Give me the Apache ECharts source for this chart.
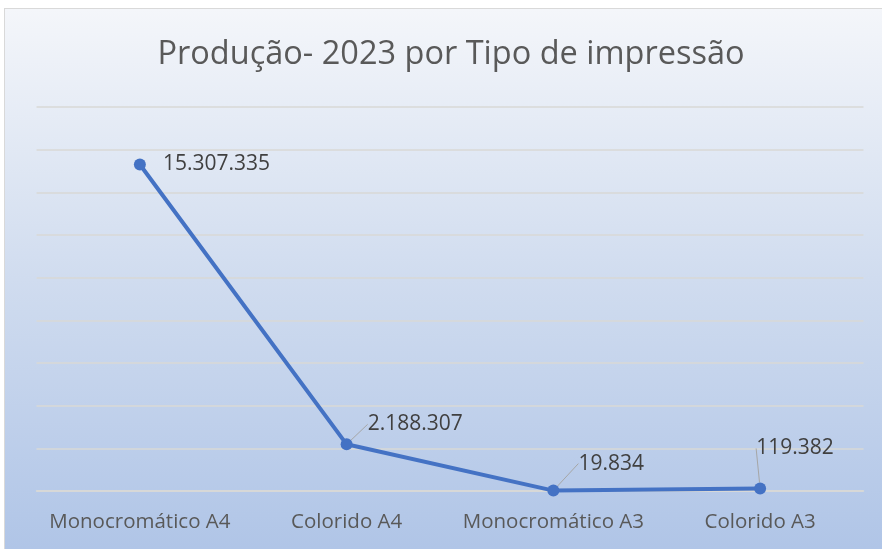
<!DOCTYPE html>
<html>
<head>
    <meta charset="utf-8">
    <title>Produção 2023</title>
    <script src="https://cdn.jsdelivr.net/npm/echarts@6/dist/echarts.min.js"></script>
    <style>
        html, body { margin: 0; padding: 0; background: #ffffff; }
        #main {
            position: absolute; left: 4px; top: 8px;
            width: 878px; height: 541px;
            box-sizing: border-box;
            border-left: 1px solid #d9d9d9;
            border-top: 1px solid #d9d9d9;
        }
    </style>
</head>
<body>
<div id="main"></div>
<script>
    // dados
    var categorias = ['Monocromático A4', 'Colorido A4', 'Monocromático A3', 'Colorido A3'];
    var producao = [15307335, 2188307, 19834, 119382];
    var eixoMin = 0, eixoMax = 18000000, eixoPasso = 2000000;

    // deslocamento dos rótulos (estilo)
    var rotuloDx = [12, 10, 14, -15];
    var rotuloDy = [0, -20, -27, -40];

    function fmt(v) {
        return String(v).replace(/\B(?=(\d{3})+(?!\d))/g, '.');
    }

    var serieDados = producao.map(function (v, i) {
        return { value: v, labelLine: { show: i > 0 } };
    });

    var myChart = echarts.init(document.getElementById('main'));
    var option = {
        backgroundColor: new echarts.graphic.LinearGradient(0, 0, 0, 1, [
            { offset: 0, color: '#f4f6fa' },
            { offset: 0.5, color: '#d0dcef' },
            { offset: 1, color: '#b0c5e7' }
        ]),
        title: {
            text: 'Produção- 2023 por Tipo de impressão',
            left: 441,
            textAlign: 'center',
            top: 24,
            textStyle: {
                fontFamily: 'Open Sans',
                fontSize: 32.5,
                fontWeight: 'normal',
                color: '#595959'
            }
        },
        grid: {
            left: 31.5,
            right: 18.5,
            top: 98,
            bottom: 58
        },
        xAxis: {
            type: 'category',
            boundaryGap: true,
            data: categorias,
            axisLine: { lineStyle: { color: '#d9d9d6', width: 1.5 } },
            axisTick: { show: false },
            axisLabel: {
                interval: 0,
                margin: 21,
                fontFamily: 'Open Sans',
                fontSize: 20.5,
                color: '#595959'
            }
        },
        yAxis: {
            type: 'value',
            min: eixoMin,
            max: eixoMax,
            interval: eixoPasso,
            axisLabel: { show: false },
            axisLine: { show: false },
            axisTick: { show: false },
            splitLine: { lineStyle: { color: '#d9d9d6', width: 1.5 } }
        },
        series: [{
            type: 'line',
            data: serieDados,
            symbol: 'circle',
            symbolSize: 12,
            itemStyle: { color: '#4472c4' },
            lineStyle: { color: '#4472c4', width: 4 },
            label: {
                show: true,
                position: 'right',
                distance: 5,
                fontFamily: 'Open Sans',
                fontSize: 21,
                color: '#404040',
                formatter: function (p) { return fmt(p.value); }
            },
            labelLine: {
                show: true,
                lineStyle: { color: '#a6a6a6', width: 1 }
            },
            labelLayout: function (params) {
                return { dx: rotuloDx[params.dataIndex], dy: rotuloDy[params.dataIndex] };
            }
        }]
    };
    myChart.setOption(option);
</script>
</body>
</html>
